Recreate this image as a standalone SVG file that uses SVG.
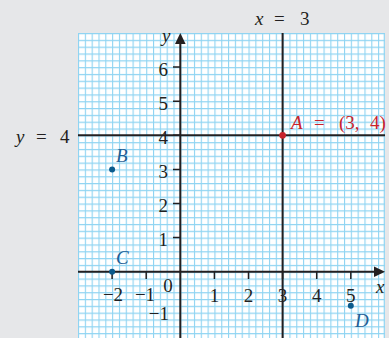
<svg xmlns="http://www.w3.org/2000/svg" width="389" height="338" viewBox="0 0 389 338">
<defs>
<style>
.t{font-family:"Liberation Serif","Times New Roman",serif;font-size:19px;fill:#231f20}
.i{font-style:italic}
.red{fill:#c8232c}
.blue{fill:#1f5f96}
.ax{stroke:#231f20;stroke-width:2;fill:none}
.tk{stroke:#231f20;stroke-width:1.5}
</style>
<pattern id="grid" x="78" y="33" width="6.82" height="6.82" patternUnits="userSpaceOnUse">
<rect width="6.82" height="6.82" fill="#ffffff"/>
<path d="M0.5 0V6.82M0 0.5H6.82" stroke="#8fd4f2" stroke-width="1.2"/>
</pattern>
</defs>
<rect width="389" height="338" fill="#e6e7e9"/>
<g id="grid-paper">
<rect x="78" y="33" width="307" height="306" fill="url(#grid)"/>
<path d="M384.3 33V338" stroke="#8fd4f2" stroke-width="1.2"/>
</g>
<g id="connectors">
<path class="ax" d="M78 271.7H376"/>
<polygon points="385,271.7 374,266.5 374,276.9" fill="#231f20"/>
<path class="ax" d="M180.3 338V43"/>
<polygon points="180.3,33 175,44 185.6,44" fill="#231f20"/>
<path class="ax" d="M282.6 33V338"/>
<path class="ax" d="M78 135.3H385"/>
<g id="ticks">
<path class="tk" d="M173 237.6H180.3M173 203.5H180.3M173 169.4H180.3M173 135.3H180.3M173 101.2H180.3M173 67.1H180.3"/>
<path class="tk" d="M112.1 271.7V279M146.2 271.7V279M214.4 271.7V279M248.5 271.7V279M282.6 271.7V279M316.7 271.7V279M350.8 271.7V279"/>
</g>
</g>
<g id="axis-labels" class="t">
<text x="168" y="75.5" text-anchor="end">6</text>
<text x="168" y="109.5" text-anchor="end">5</text>
<text x="168" y="143.5" text-anchor="end">4</text>
<text x="168" y="177.5" text-anchor="end">3</text>
<text x="168" y="211.5" text-anchor="end">2</text>
<text x="168" y="245.8" text-anchor="end">1</text>
<text x="169" y="320" text-anchor="end">−1</text>
<text x="113" y="301" text-anchor="middle">−2</text>
<text x="145" y="301" text-anchor="middle">−1</text>
<text x="168" y="292" text-anchor="middle">0</text>
<text x="214.4" y="302" text-anchor="middle">1</text>
<text x="248.5" y="302" text-anchor="middle">2</text>
<text x="282.6" y="302" text-anchor="middle">3</text>
<text x="316.7" y="302" text-anchor="middle">4</text>
<text x="350.8" y="302" text-anchor="middle">5</text>
<text class="i" x="162" y="42">y</text>
<text class="i" x="376" y="293">x</text>
</g>
<g id="line-x3-label" class="t" font-size="20">
<text y="25"><tspan class="i" x="255">x</tspan><tspan x="274">=</tspan><tspan x="300">3</tspan></text>
</g>
<g id="line-y4-label" class="t">
<text y="143"><tspan class="i" x="16">y</tspan><tspan x="36">=</tspan><tspan x="60">4</tspan></text>
</g>
<g id="point-A">
<circle cx="282.6" cy="135.3" r="3.4" fill="#c8232c"/>
<text class="t red" y="128.5"><tspan class="i" x="291">A</tspan><tspan x="314">=</tspan><tspan x="339">(3,</tspan><tspan x="370">4)</tspan></text>
</g>
<g id="point-B">
<circle cx="112.1" cy="169.4" r="3" fill="#0a5a8c"/>
<text class="t i blue" x="116" y="161.5">B</text>
</g>
<g id="point-C">
<circle cx="112.1" cy="271.7" r="3" fill="#0a5a8c"/>
<text class="t i blue" x="116" y="263.5">C</text>
</g>
<g id="point-D">
<circle cx="350.8" cy="305.8" r="3" fill="#0a5a8c"/>
<text class="t i blue" x="355" y="326.5">D</text>
</g>
</svg>
